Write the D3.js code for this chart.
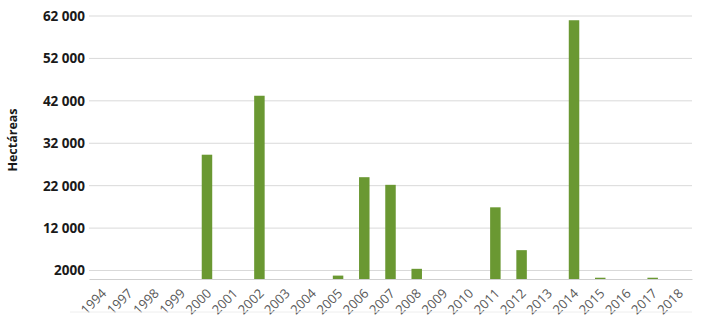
<!DOCTYPE html>
<html>
<head>
<meta charset="utf-8">
<script src="https://cdn.jsdelivr.net/npm/d3@7"></script>
<style>
  body { margin: 0; background: #fff; }
  text { font-family: "Open Sans", "Noto Sans", sans-serif; }
</style>
</head>
<body>
<div id="chart"></div>
<script>
const years = ['1994', '1997', '1998', '1999', '2000', '2001', '2002', '2003', '2004', '2005', '2006', '2007',
  '2008', '2009', '2010', '2011', '2012', '2013', '2014', '2015', '2016', '2017', '2018']
const hectares = [0, 0, 0, 0, 29300, 0, 43200, 0, 0, 800, 24000, 22200,
  2400, 0, 0, 16900, 6800, 0, 61000, 300, 0, 300, 0]
const tickValues = [2000, 12000, 22000, 32000, 42000, 52000, 62000]
const yLabel = 'Hectáreas'

const width = 702, height = 325
const margin = {top: 16, right: 10, bottom: 46, left: 89}
const plotW = 692 - margin.left
const plotH = 279 - margin.top

const svg = d3.select('#chart').append('svg')
  .attr('width', width)
  .attr('height', height)

const g = svg.append('g')
  .attr('transform', `translate(${margin.left}, ${margin.top})`)

const x = d3.scaleBand()
  .domain(years)
  .range([0, plotW])
  .paddingInner(0.6)
  .paddingOuter(0.3)

const y = d3.scaleLinear()
  .domain([0, 62000])
  .range([plotH, 0])

const fmt = v => v < 10000 ? String(v) : d3.format(',')(v).replace(',', ' ')

// gridlines
g.selectAll('.grid')
  .data(tickValues)
  .enter().append('line')
  .attr('x1', 0)
  .attr('x2', plotW)
  .attr('y1', d => y(d))
  .attr('y2', d => y(d))
  .attr('stroke', '#d9d9d9')
  .attr('stroke-width', 1)

// y axis labels
const yAxis = g.append('g')
  .call(d3.axisLeft(y).tickValues(tickValues).tickSize(0).tickPadding(4).tickFormat(fmt))
yAxis.select('.domain').remove()
yAxis.selectAll('text')
  .style('font-size', '13.5px')
  .style('font-weight', 'bold')
  .style('fill', '#1a1a1a')

// bars
g.selectAll('.bar')
  .data(years)
  .enter().append('rect')
  .attr('x', d => x(d))
  .attr('width', x.bandwidth())
  .attr('y', (d, i) => y(hectares[i]))
  .attr('height', (d, i) => plotH - y(hectares[i]))
  .attr('fill', '#6a9832')

// x axis
const xAxis = g.append('g')
  .attr('transform', `translate(0, ${plotH})`)
  .call(d3.axisBottom(x).tickSize(0))
xAxis.select('.domain').attr('stroke', '#d0d0d0')
xAxis.selectAll('text')
  .style('font-size', '13px')
  .style('fill', '#595959')
  .style('text-anchor', 'end')
  .attr('x', 0)
  .attr('y', 0)
  .attr('dy', '0.35em')
  .attr('transform', 'translate(2, 12) rotate(-45)')

// faint bottom line
svg.append('line')
  .attr('x1', 70).attr('x2', 692)
  .attr('y1', 312).attr('y2', 312)
  .attr('stroke', '#eeeeee')

// y label
svg.append('text')
  .attr('transform', 'translate(17, 140) rotate(-90)')
  .style('text-anchor', 'middle')
  .style('font-size', '12.5px')
  .style('font-weight', 'bold')
  .style('fill', '#1a1a1a')
  .text(yLabel)
</script>
</body>
</html>
